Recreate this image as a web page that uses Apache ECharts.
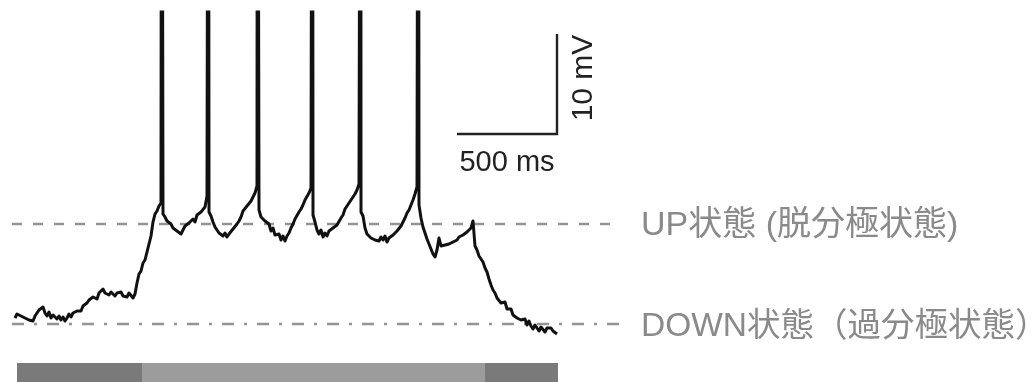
<!DOCTYPE html>
<html>
<head>
<meta charset="utf-8">
<script src="https://cdn.jsdelivr.net/npm/echarts@6/dist/echarts.min.js"></script>
<style>
  html, body { margin: 0; padding: 0; background: #ffffff; }
  #chart { width: 1031px; height: 382px; }
</style>
</head>
<body>
<div id="chart"></div>
<script>
// Membrane potential trace, one sample every 10 ms starting at 25 ms (mV)
const sampleStartMs = 25;
const sampleStepMs = 10;
const membraneMv = [
  -69.4, -69.0, -68.8, -69.2, -69.1, -69.4, -69.3, -69.6, -69.4, -69.7,
  -69.2, -68.9, -68.6, -68.8, -68.3, -68.9, -69.2, -68.8, -69.4, -69.1,
  -69.0, -69.5, -69.2, -69.6, -69.3, -69.7, -69.4, -69.0, -69.3, -68.9,
  -69.1, -68.7, -68.5, -68.7, -68.2, -68.3, -67.9, -67.6, -67.8, -67.3,
  -67.2, -67.5, -66.9, -66.8, -66.5, -66.9, -66.7, -67.1, -66.8, -67.0,
  -67.2, -66.9, -67.1, -66.8, -67.2, -67.0, -67.3, -66.9, -67.1, -67.4,
  -67.0, -65.9, -65.0, -64.7, -63.9, -63.6, -62.8, -62.0, -61.2, -59.8,
  -59.0, -58.7, -58.2, -57.9, -59.0, -59.3, -59.7, -59.5, -60.0, -60.4,
  -60.2, -60.7, -60.5, -61.0, -60.6, -60.2, -60.4, -59.9, -59.8, -59.5,
  -59.8, -59.1, -59.3, -58.8, -58.9, -58.3, -57.2, -58.8, -59.2, -59.8,
  -60.3, -60.5, -60.9, -60.7, -61.2, -60.9, -61.3, -61.0, -60.8, -60.5,
  -60.7, -60.0, -59.7, -59.3, -58.7, -58.9, -58.2, -58.4, -57.7, -57.5,
  -56.9, -56.2, -58.6, -59.3, -59.1, -59.7, -59.5, -60.0, -60.7, -60.4,
  -61.1, -61.3, -61.0, -61.6, -61.2, -61.7, -61.2, -60.9, -60.4, -60.0,
  -59.5, -59.3, -58.8, -58.5, -58.1, -57.6, -57.4, -56.9, -56.4, -59.1,
  -59.8, -60.6, -61.0, -60.6, -61.3, -60.9, -61.2, -60.7, -60.9, -60.4,
  -60.6, -60.1, -59.9, -59.4, -59.1, -58.5, -58.7, -57.9, -57.7, -57.3,
  -57.0, -56.6, -56.0, -58.8, -59.2, -60.4, -61.0, -61.1, -61.4, -61.2,
  -61.6, -61.4, -61.7, -61.3, -61.6, -61.2, -61.8, -61.4, -61.3, -61.1,
  -61.2, -60.7, -60.5, -60.2, -59.8, -59.4, -58.9, -58.6, -58.1, -57.6,
  -57.0, -56.3, -58.1, -59.4, -60.3, -60.9, -61.5, -62.0, -62.5, -63.0,
  -63.3, -62.6, -61.4, -62.2, -62.4, -62.1, -62.2, -62.0, -61.9, -61.8,
  -61.6, -61.6, -61.3, -61.4, -61.1, -61.2, -60.8, -60.9, -60.4, -59.7,
  -62.2, -62.6, -63.2, -63.4, -63.8, -64.4, -64.8, -65.5, -66.1, -66.6,
  -66.9, -67.4, -67.3, -67.9, -68.1, -67.8, -68.5, -68.7, -68.5, -69.1,
  -69.2, -69.4, -69.2, -69.6, -69.8, -69.5, -70.1, -69.7, -70.2, -70.5,
  -70.1, -70.4, -70.7, -70.3, -70.5, -70.8, -70.4, -70.6, -70.4, -70.7,
  -70.6, -71.0
];

// Action potentials: spike times (ms) and peak potential (mV); the plot top truncates them
const spikeTimesMs = [758, 992, 1237, 1512, 1754, 2042];
const spikePeakMv = 20;

// State levels (mV) and the time span of their guide lines (ms)
const upLevelMv = -60;
const downLevelMv = -70;
const levelStartMs = 10;
const levelEndMs = 3050;
const upLabel = 'UP状態 (脱分極状態)';
const downLabel = 'DOWN状態（過分極状態）';

// Condition bar under the trace: segment bounds (ms) and kind
const barStartsMs = [35, 660, 2375];
const barEndsMs = [660, 2375, 2740];
const barKinds = ['outer', 'inner', 'outer'];

// Scale bar
const scaleTimeMs = 500;
const scaleVoltMv = 10;
const scaleCornerMs = 2735;
const scaleCornerMv = -51;
const scaleTimeLabel = '500 ms';
const scaleVoltLabel = '10 mV';

// ---- build series data ----
const tracePoints = membraneMv.map((v, i) => [sampleStartMs + i * sampleStepMs, v]);
spikeTimesMs.forEach(t => tracePoints.push([t, spikePeakMv]));
tracePoints.sort((a, b) => a[0] - b[0]);

const barData = barStartsMs.map((s, i) => [s, barEndsMs[i], barKinds[i] === 'outer' ? 0 : 1]);
const barFill = ['#7a7a7a', '#9c9c9c'];

const scaleBarPoints = [
  [scaleCornerMs - scaleTimeMs, scaleCornerMv],
  [scaleCornerMs, scaleCornerMv],
  [scaleCornerMs, scaleCornerMv + scaleVoltMv]
];

const FONT = "'Liberation Sans', Arial, 'Noto Sans CJK JP', sans-serif";
const X_MAX = 5105;

const chart = echarts.init(document.getElementById('chart'), null, { renderer: 'canvas' });

chart.setOption({
  animation: false,
  backgroundColor: '#ffffff',
  grid: [
    { left: 10, right: 0, top: 12, height: 342 },
    { left: 10, right: 0, top: 363, height: 19 }
  ],
  xAxis: [
    { type: 'value', gridIndex: 0, min: 0, max: X_MAX, show: false },
    { type: 'value', gridIndex: 1, min: 0, max: X_MAX, show: false }
  ],
  yAxis: [
    { type: 'value', gridIndex: 0, min: -73, max: -38.8, show: false },
    { type: 'value', gridIndex: 1, min: 0, max: 1, show: false }
  ],
  series: [
    {
      name: 'UP',
      type: 'line',
      xAxisIndex: 0, yAxisIndex: 0,
      data: [[levelStartMs, upLevelMv], [levelEndMs, upLevelMv]],
      showSymbol: false,
      silent: true,
      z: 1,
      lineStyle: { color: '#949494', width: 2.4, type: [10, 11] }
    },
    {
      name: 'DOWN',
      type: 'line',
      xAxisIndex: 0, yAxisIndex: 0,
      data: [[levelStartMs, downLevelMv], [levelEndMs, downLevelMv]],
      showSymbol: false,
      silent: true,
      z: 1,
      lineStyle: { color: '#949494', width: 2.4, type: [12, 10, 3, 10] }
    },
    {
      name: 'Vm',
      type: 'line',
      xAxisIndex: 0, yAxisIndex: 0,
      data: tracePoints,
      showSymbol: false,
      clip: true,
      z: 3,
      lineStyle: { color: '#111111', width: 3, join: 'round' }
    },
    {
      name: 'scale',
      type: 'line',
      xAxisIndex: 0, yAxisIndex: 0,
      data: scaleBarPoints,
      showSymbol: false,
      z: 3,
      lineStyle: { color: '#222222', width: 2.4, join: 'miter', cap: 'butt' }
    },
    {
      name: 'condition',
      type: 'custom',
      xAxisIndex: 1, yAxisIndex: 1,
      data: barData,
      encode: { x: [0, 1] },
      renderItem: function (params, api) {
        const a = api.coord([api.value(0), 1]);
        const b = api.coord([api.value(1), 0]);
        return {
          type: 'rect',
          shape: { x: a[0], y: a[1], width: b[0] - a[0], height: b[1] - a[1] },
          style: { fill: barFill[api.value(2)] }
        };
      }
    }
  ]
});

// Text labels anchored to the data coordinates
function px(t, v) {
  return chart.convertToPixel({ gridIndex: 0 }, [t, v]);
}
const upEnd = px(levelEndMs, upLevelMv);
const downEnd = px(levelEndMs, downLevelMv);
const hMid = px(scaleCornerMs - scaleTimeMs / 2, scaleCornerMv);
const vMid = px(scaleCornerMs, scaleCornerMv + scaleVoltMv / 2);

chart.setOption({
  graphic: [
    {
      type: 'text', x: upEnd[0] + 21, y: upEnd[1] + 2, silent: true,
      style: { text: upLabel, font: '34px ' + FONT, fill: '#8a8a8a', textAlign: 'left', textVerticalAlign: 'middle' }
    },
    {
      type: 'text', x: downEnd[0] + 21, y: downEnd[1] + 3, silent: true,
      style: { text: downLabel, font: '33.5px ' + FONT, fill: '#8a8a8a', textAlign: 'left', textVerticalAlign: 'middle' }
    },
    {
      type: 'text', x: hMid[0], y: hMid[1] + 29, silent: true,
      style: { text: scaleTimeLabel, font: '29px ' + FONT, fill: '#222222', textAlign: 'center', textVerticalAlign: 'middle' }
    },
    {
      type: 'text', x: vMid[0] + 27, y: vMid[1] - 6, rotation: Math.PI / 2, silent: true,
      style: { text: scaleVoltLabel, font: '30px ' + FONT, fill: '#222222', textAlign: 'center', textVerticalAlign: 'middle' }
    }
  ]
});
</script>
</body>
</html>
